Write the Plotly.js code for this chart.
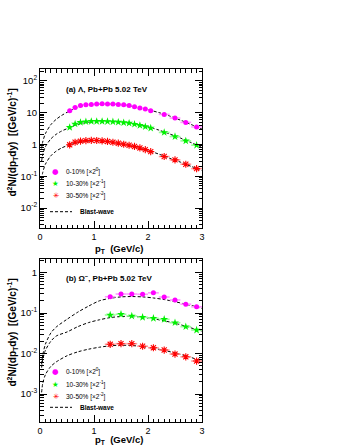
<!DOCTYPE html>
<html>
<head>
<meta charset="utf-8">
<script src="https://cdn.plot.ly/plotly-3.0.1.min.js"></script>
<style>html,body{margin:0;padding:0;background:#fff}#chart{width:345px;height:446px}</style>
</head>
<body>
<div id="chart"></div>
<script>
// ---- Lambda (panel a) ----
const lamPt = [0.55,0.65,0.75,0.85,0.95,1.05,1.15,1.25,1.35,1.45,1.55,1.65,1.75,1.85,1.95,2.05,2.3,2.5,2.7,2.9];
const lamPtErr = [0.05,0.05,0.05,0.05,0.05,0.05,0.05,0.05,0.05,0.05,0.05,0.05,0.05,0.05,0.05,0.05,0.1,0.1,0.1,0.1];
const lam0_10 = [11.5,14.7,16.9,17.8,18.2,18.7,19.1,18.7,18.7,18.2,17.8,16.9,15.4,14.0,13.1,11.5,8.85,6.8,4.97,3.57];
const lam10_30 = [3.47,4.43,4.97,5.23,5.35,5.35,5.35,5.3,5.2,5.05,4.9,4.7,4.35,4.0,3.65,3.3,2.4,1.78,1.3,0.95];
const lam30_50 = [0.98,1.18,1.28,1.33,1.35,1.34,1.3,1.25,1.18,1.1,1.02,0.95,0.87,0.78,0.69,0.6,0.42,0.33,0.24,0.175];
const bwLamPt = [0.03,0.05,0.1,0.2,0.3,0.4,0.5,0.6,0.8,1.0,1.2,1.4,1.6,1.8,2.0,2.2,2.4,2.6,2.8,3.0];
const bwLam0_10 = [0.75,1.2,2.2,4.2,6.2,8.2,10.3,12.6,16.3,18.3,18.8,18.4,17.3,15.0,12.5,10.1,7.9,5.85,4.25,3.05];
const bwLam10_30 = [0.3,0.48,0.85,1.5,2.1,2.65,3.15,3.75,4.75,5.25,5.35,5.2,4.85,4.35,3.6,2.85,2.15,1.6,1.15,0.82];
const bwLam30_50 = [0.08,0.13,0.24,0.44,0.62,0.78,0.92,1.04,1.22,1.32,1.3,1.17,1.0,0.82,0.65,0.5,0.37,0.28,0.205,0.15];

// ---- Omega (panel b) ----
const omePt = [1.3,1.5,1.7,1.9,2.1,2.3,2.5,2.7,2.9];
const omePtErr = [0.1,0.1,0.1,0.1,0.1,0.1,0.1,0.1,0.1];
const ome0_10 = [0.252,0.294,0.294,0.29,0.315,0.248,0.21,0.165,0.142];
const ome10_30 = [0.0893,0.093,0.0843,0.0783,0.074,0.0699,0.0576,0.0459,0.038];
const ome30_50 = [0.0169,0.0175,0.0175,0.0151,0.0139,0.0122,0.0097,0.0083,0.00653];
const bwOmePt = [0.03,0.05,0.1,0.2,0.3,0.5,0.7,0.9,1.1,1.3,1.5,1.7,1.9,2.1,2.3,2.5,2.7,2.9,3.0];
const bwOme0_10 = [0.0055,0.009,0.017,0.032,0.045,0.07,0.105,0.148,0.2,0.23,0.25,0.255,0.25,0.235,0.215,0.19,0.165,0.142,0.13];
const bwOme10_30 = [0.0045,0.007,0.012,0.02,0.027,0.034,0.046,0.058,0.068,0.077,0.082,0.082,0.078,0.072,0.064,0.056,0.047,0.039,0.036];
const bwOme30_50 = [0.0011,0.0018,0.003,0.0048,0.0062,0.0088,0.011,0.0128,0.0143,0.0155,0.016,0.0158,0.0148,0.0135,0.012,0.0103,0.0088,0.0072,0.0065];

// ---- labels ----
const legendLabels = ['0-10% [\u00d72<sup>0</sup>]','10-30% [\u00d72<sup>-1</sup>]','30-50% [\u00d72<sup>-2</sup>]','Blast-wave'];
const topTickVals = [0.01,0.1,1,10,100];
const topTickText = ['10<sup>-2</sup>','10<sup>-1</sup>','1','10','10<sup>2</sup>'];
const botTickVals = [0.001,0.01,0.1,1];
const botTickText = ['10<sup>-3</sup>','10<sup>-2</sup>','10<sup>-1</sup>','1'];
const xTickVals = [0,1,2,3];

const W = 345, H = 446;
const px = v => v / W;
const py = v => 1 - v / H;

const colM = '#ff00ff', colG = '#00f000', colR = '#ff0000';
const lightM = '#ff99ff', lightG = '#99ff99', lightR = '#ff9999';

function pts(x, y, ex, xa, ya, sym, col, light, size) {
  const mk = {symbol: sym, size: size, color: col};
  if (sym.indexOf('asterisk') === 0) mk.line = {color: col, width: 1.1};
  return {x: x, y: y, xaxis: xa, yaxis: ya, type: 'scatter', mode: 'markers', showlegend: false,
    error_x: {type: 'data', array: ex, visible: true, color: light, thickness: 1.6, width: 0},
    marker: mk, cliponaxis: true};
}
function bw(x, y, xa, ya) {
  return {x: x, y: y, xaxis: xa, yaxis: ya, type: 'scatter', mode: 'lines', showlegend: false,
    line: {color: '#000', width: 1, dash: '3px,2px', shape: 'spline', smoothing: 0.8}, hoverinfo: 'skip'};
}

const data = [
  bw(bwLamPt, bwLam0_10, 'x', 'y'), bw(bwLamPt, bwLam10_30, 'x', 'y'), bw(bwLamPt, bwLam30_50, 'x', 'y'),
  pts(lamPt, lam0_10, lamPtErr, 'x', 'y', 'circle', colM, lightM, 5),
  pts(lamPt, lam10_30, lamPtErr, 'x', 'y', 'star', colG, lightG, 6),
  pts(lamPt, lam30_50, lamPtErr, 'x', 'y', 'asterisk-open', colR, lightR, 6),
  bw(bwOmePt, bwOme0_10, 'x2', 'y2'), bw(bwOmePt, bwOme10_30, 'x2', 'y2'), bw(bwOmePt, bwOme30_50, 'x2', 'y2'),
  pts(omePt, ome0_10, omePtErr, 'x2', 'y2', 'circle', colM, lightM, 5),
  pts(omePt, ome10_30, omePtErr, 'x2', 'y2', 'star', colG, lightG, 6),
  pts(omePt, ome30_50, omePtErr, 'x2', 'y2', 'asterisk-open', colR, lightR, 6)
];

const tickFont = {family: 'Liberation Sans, Arial, sans-serif', size: 9, color: '#000'};
function xax(anchor, dom) {
  return {domain: dom, anchor: anchor, range: [0, 3], tickmode: 'array', tickvals: xTickVals,
    ticktext: xTickVals.map(String), ticks: 'inside', ticklen: 7, tickwidth: 1, tickcolor: '#000',
    showline: true, linecolor: '#000', linewidth: 1, mirror: 'allticks', showgrid: false, zeroline: false,
    tickfont: tickFont, ticklabelstandoff: 0,
    minor: {dtick: 0.1, tick0: 0, ticks: 'inside', ticklen: 3.5, tickcolor: '#000', showgrid: false}};
}
function yax(anchor, dom, rng, tv, tt) {
  return {domain: dom, anchor: anchor, type: 'log', range: rng, tickmode: 'array', tickvals: tv, ticktext: tt,
    ticks: 'inside', ticklen: 7, tickwidth: 1, tickcolor: '#000',
    showline: true, linecolor: '#000', linewidth: 1, mirror: 'allticks', showgrid: false, zeroline: false,
    tickfont: {family: 'Liberation Sans, Arial, sans-serif', size: 9.5, color: '#000'},
    minor: {dtick: 'D1', ticks: 'inside', ticklen: 3.5, tickcolor: '#000', showgrid: false}};
}

const xDom = [px(40), px(202)];
const yDomTop = [py(228), py(69)];
const yDomBot = [py(422), py(259)];

const F = 'Liberation Sans, Arial, sans-serif';
const ann = [];
function txt(t, x, y, size, opts) {
  ann.push(Object.assign({text: t, x: px(x), y: py(y), xref: 'paper', yref: 'paper', showarrow: false,
    font: {family: F, size: size, color: '#000'}, xanchor: 'left', yanchor: 'middle'}, opts || {}));
}
// panel titles
txt('<b>(a) \u039b, Pb+Pb 5.02 TeV</b>', 64, 89.5, 8);
txt('<b>(b) \u03a9<sup>\u2212</sup>, Pb+Pb 5.02 TeV</b>', 64, 277.5, 8);
// axis titles
const ytitle = '<b>d<sup>2</sup>N/(dp<sub>T</sub>dy)  [(GeV/c)<sup>-1</sup>]</b>';
txt(ytitle, 12, 142.5, 10, {textangle: -90, xanchor: 'center'});
txt(ytitle, 12, 332.5, 10, {textangle: -90, xanchor: 'center'});
const xtitle = '<b>p<sub>T</sub>  (GeV/c)</b>';
txt(xtitle, 119, 249, 9.5, {xanchor: 'center'});
txt(xtitle, 119, 440, 9.5, {xanchor: 'center'});
// legends
const symTxt = ['\u25cf', '\u2605', '\u2733'];
const symCol = [colM, colG, colR];
const legTop = [171.7, 183.3, 195.7], legBot = [371.7, 384.3, 396.7];
[legTop, legBot].forEach(function (ys) {
  for (let i = 0; i < 3; i++) {
    txt(symTxt[i], 56, ys[i], 7.5, {xanchor: 'center', font: {family: 'DejaVu Sans', size: 7.5, color: symCol[i]}});
    txt(legendLabels[i], 64, ys[i], 6.5);
  }
});
txt('<b>' + legendLabels[3] + '</b>', 78, 211.7, 6.5);
txt('<b>' + legendLabels[3] + '</b>', 78, 407.3, 6.5);

const shapes = [211.7, 407.3].map(function (y) {
  return {type: 'line', xref: 'paper', yref: 'paper', x0: px(50), x1: px(72), y0: py(y), y1: py(y),
    line: {color: '#000', width: 1, dash: '3px,2px'}};
});

const layout = {
  width: W, height: H, margin: {l: 0, r: 0, t: 0, b: 0}, paper_bgcolor: '#fff', plot_bgcolor: '#fff',
  showlegend: false,
  xaxis: xax('y', xDom), yaxis: yax('x', yDomTop, [-2.625, 2.375], topTickVals, topTickText),
  xaxis2: xax('y2', xDom), yaxis2: yax('x2', yDomBot, [-3.69, 0.333], botTickVals, botTickText),
  annotations: ann, shapes: shapes
};

Plotly.newPlot('chart', data, layout, {displayModeBar: false, staticPlot: true});
</script>
</body>
</html>
